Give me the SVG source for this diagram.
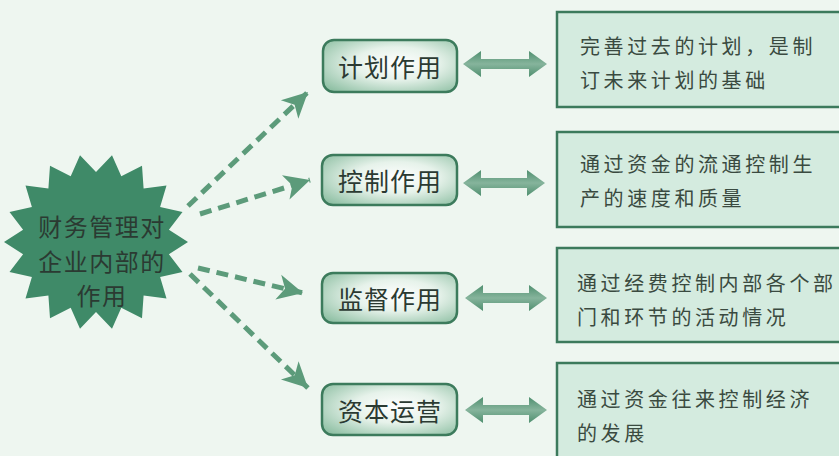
<svg xmlns="http://www.w3.org/2000/svg" width="839" height="456" viewBox="0 0 839 456">
<defs>
<style>
.t{font-family:"Noto Sans CJK SC","Noto Sans CJK TC",sans-serif;fill:#2b3a32}
.st{font-size:24px;letter-spacing:1.5px;text-anchor:middle;dominant-baseline:central}
.node{fill:url(#ng);stroke:#3c7b5c;stroke-width:2.5}
.nt{font-size:25px;letter-spacing:1px;text-anchor:middle;dominant-baseline:central}
.box{fill:#d4ebdf;stroke:#3c7a5c;stroke-width:2.5}
.bt{font-size:20px;letter-spacing:3.6px;dominant-baseline:central;fill:#3a4a40}
.dash{fill:none;stroke:#5c9b7a;stroke-width:5;stroke-dasharray:12 7;marker-end:url(#ah)}
.dbl{fill:url(#dg)}
</style>
<radialGradient id="ng" cx="0.55" cy="0.45" r="0.7">
<stop offset="0" stop-color="#ffffff"/>
<stop offset="0.45" stop-color="#e6f2ea"/>
<stop offset="1" stop-color="#8fc0a4"/>
</radialGradient>
<linearGradient id="dg" x1="0" y1="0" x2="0" y2="1">
<stop offset="0" stop-color="#4f8f6f"/>
<stop offset="0.5" stop-color="#86b49c"/>
<stop offset="1" stop-color="#4f8f6f"/>
</linearGradient>
<marker id="ah" markerUnits="userSpaceOnUse" markerWidth="30" markerHeight="30" viewBox="-24 -13 26 26" refX="0" refY="0" orient="auto">
<path d="M0,0 L-22,-11 L-16,0 L-22,11 Z" fill="#5c9b7a"/>
</marker>
</defs>
<rect x="0" y="0" width="839" height="456" fill="#eef6f0"/>

<g id="center">
<polygon fill="#3f8a68" points="188,242 168.9,254.2 182.5,272.1 160.1,277 166.5,298.6 143.6,295.6 142,318.2 121.3,307.8 112,328.7 96,312 80,328.7 70.7,307.8 50,318.2 48.4,295.6 25.5,298.6 31.9,277 9.5,272.1 23.1,254.2 4,242 23.1,229.8 9.5,211.9 31.9,207 25.5,185.4 48.4,188.4 50,165.8 70.7,176.2 80,155.3 96,172 112,155.3 121.3,176.2 142,165.8 143.6,188.4 166.5,185.4 160.1,207 182.5,211.9 168.9,229.8"/>
<text class="t st" x="102" y="225">财务管理对</text>
<text class="t st" x="102" y="260">企业内部的</text>
<text class="t st" x="102" y="294">作用</text>
</g>

<g id="connectors">
<path class="dash" d="M188,206 L308,92"/>
<path class="dash" d="M200,214 L310,180"/>
<path class="dash" d="M198,268 L303,293"/>
<path class="dash" d="M190,274 L308,388"/>
<polygon class="dbl" points="463,64 481,51 481,59 529,59 529,51 547,64 529,77 529,69 481,69 481,77"/>
<polygon class="dbl" points="463,183 481,170 481,178 527,178 527,170 545,183 527,196 527,188 481,188 481,196"/>
<polygon class="dbl" points="465,298 483,285 483,293 529,293 529,285 547,298 529,311 529,303 483,303 483,311"/>
<polygon class="dbl" points="465,410 483,397 483,405 529,405 529,397 547,410 529,423 529,415 483,415 483,423"/>
</g>

<g id="n1">
<rect class="node" x="323" y="40" width="134" height="52" rx="11"/>
<text class="t nt" x="390" y="66">计划作用</text>
</g>
<g id="n2">
<rect class="node" x="322" y="155" width="135" height="50" rx="11"/>
<text class="t nt" x="390" y="180">控制作用</text>
</g>
<g id="n3">
<rect class="node" x="322" y="273" width="135" height="50" rx="11"/>
<text class="t nt" x="390" y="298">监督作用</text>
</g>
<g id="n4">
<rect class="node" x="322" y="384" width="135" height="51" rx="11"/>
<text class="t nt" x="390" y="410">资本运营</text>
</g>

<g id="b1">
<rect class="box" x="557" y="12" width="290" height="95"/>
<text class="t bt" x="580" y="45">完善过去的计划，是制</text>
<text class="t bt" x="580" y="79">订未来计划的基础</text>
</g>
<g id="b2">
<rect class="box" x="557" y="132" width="290" height="95"/>
<text class="t bt" x="580" y="163">通过资金的流通控制生</text>
<text class="t bt" x="580" y="197">产的速度和质量</text>
</g>
<g id="b3">
<rect class="box" x="557" y="248" width="290" height="94"/>
<text class="t bt" x="577" y="282">通过经费控制内部各个部</text>
<text class="t bt" x="577" y="316">门和环节的活动情况</text>
</g>
<g id="b4">
<rect class="box" x="557" y="363" width="290" height="110"/>
<text class="t bt" x="577" y="398">通过资金往来控制经济</text>
<text class="t bt" x="577" y="432">的发展</text>
</g>
</svg>
